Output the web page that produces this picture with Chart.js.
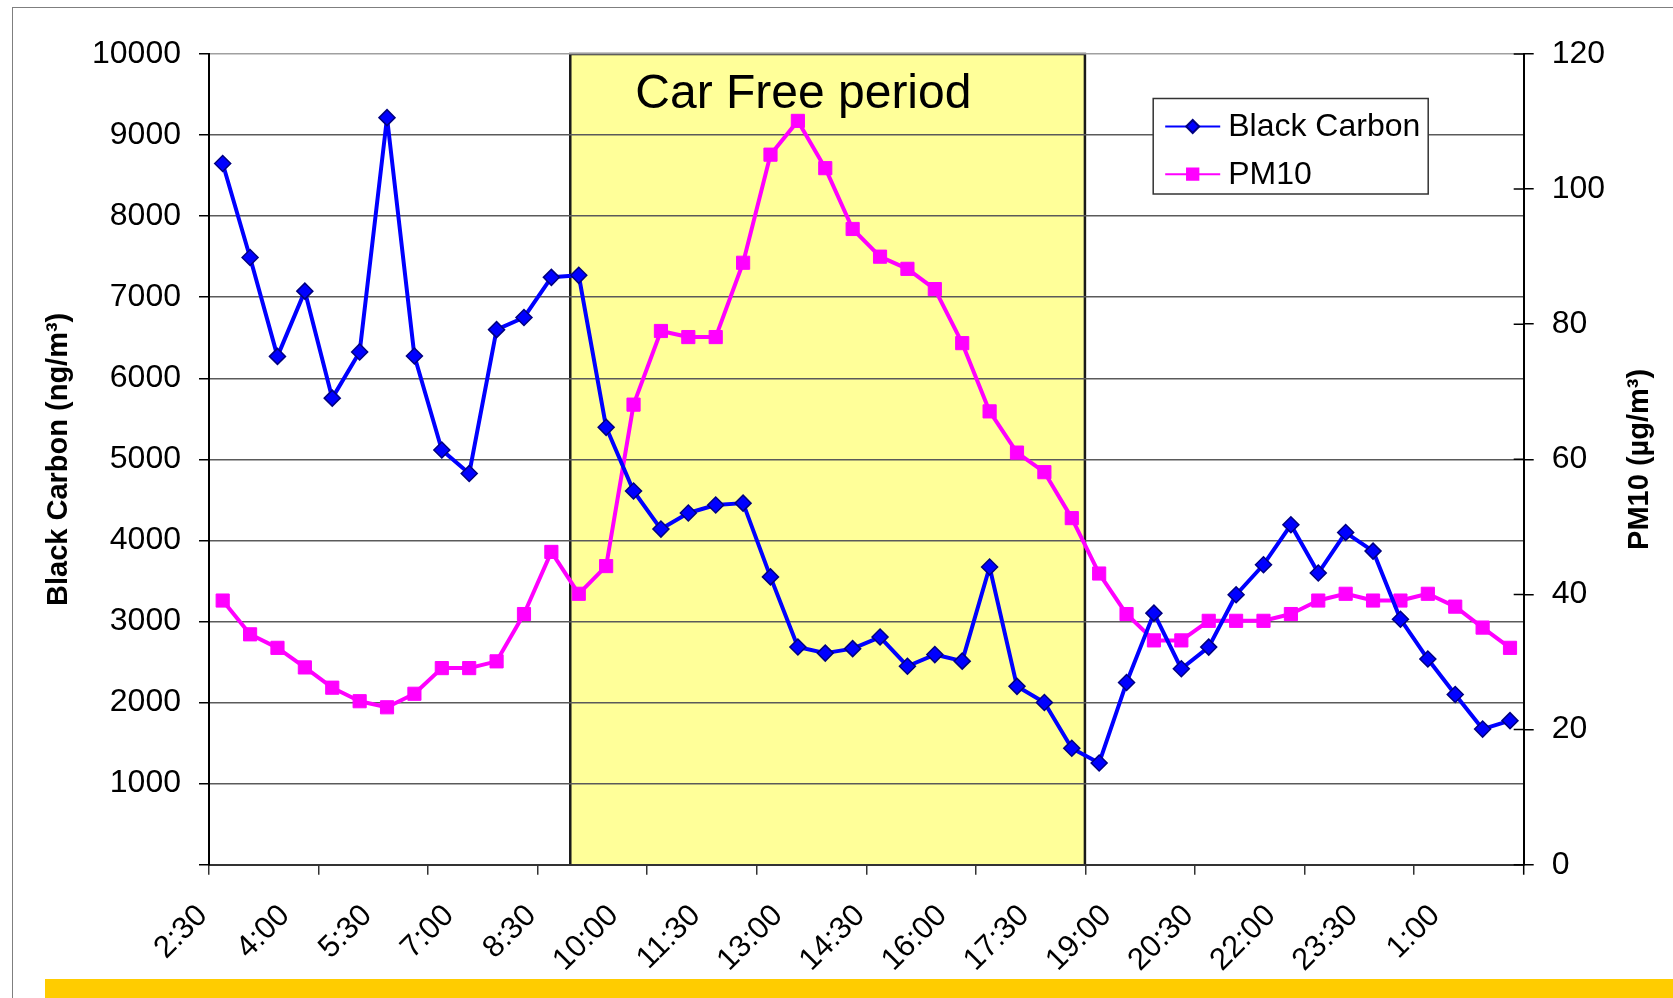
<!DOCTYPE html>
<html>
<head>
<meta charset="utf-8">
<title>Black Carbon and PM10 - car free day</title>
<script src="https://cdn.jsdelivr.net/npm/chart.js@4.4.1/dist/chart.umd.min.js"></script>
<style>
  html, body { margin: 0; padding: 0; background: #fff; }
  #wrap { position: relative; width: 1673px; height: 998px; overflow: hidden; }
  #frame { position: absolute; left: 12px; top: 7px; width: 1700px; height: 1100px; border-top: 1.5px solid #7f7f7f; border-left: 1.5px solid #7f7f7f; }
  #band { position: absolute; left: 45px; top: 979px; width: 1700px; height: 30px; background: #FFCC00; }
  canvas { position: absolute; left: 0; top: 0; }
</style>
</head>
<body>
<div id="wrap">
  <div id="frame"></div>
  <canvas id="chart" width="1673" height="998"></canvas>
  <div id="band"></div>
</div>
<script>
const timeLabels = [
  '2:30', '3:00', '3:30', '4:00', '4:30', '5:00', '5:30', '6:00', '6:30', '7:00', '7:30', '8:00',
  '8:30', '9:00', '9:30', '10:00', '10:30', '11:00', '11:30', '12:00', '12:30', '13:00', '13:30', '14:00',
  '14:30', '15:00', '15:30', '16:00', '16:30', '17:00', '17:30', '18:00', '18:30', '19:00', '19:30', '20:00',
  '20:30', '21:00', '21:30', '22:00', '22:30', '23:00', '23:30', '0:00', '0:30', '1:00', '1:30', '2:00'
];

// ng/m3
const blackCarbon = [
  8650, 7490, 6270, 7075, 5755, 6325, 9215, 6275, 5115, 4825, 6600, 6750,
  7245, 7270, 5395, 4610, 4140, 4338, 4437, 4460, 3550, 2685, 2610, 2665,
  2808, 2448, 2592, 2511, 3672, 2200, 2000, 1436, 1255, 2247, 3103, 2417,
  2684, 3330, 3700, 4193, 3598, 4097, 3868, 3028, 2537, 2100, 1673, 1777
];

// ug/m3
const pm10 = [
  39.1, 34.1, 32.1, 29.2, 26.2, 24.2, 23.3, 25.3, 29.1, 29.1, 30.1, 37.1,
  46.3, 40.1, 44.2, 68.1, 79.0, 78.1, 78.1, 89.1, 105.1, 110.1, 103.1, 94.1,
  90.0, 88.2, 85.2, 77.2, 67.1, 61.0, 58.1, 51.3, 43.1, 37.1, 33.2, 33.2,
  36.1, 36.1, 36.1, 37.1, 39.1, 40.1, 39.1, 39.1, 40.1, 38.2, 35.1, 32.1
];

const bcAxisTitle = 'Black Carbon (ng/m\u00b3)';
const pmAxisTitle = 'PM10 (\u00b5g/m\u00b3)';
const carFreeText = 'Car Free period';
// shaded box, in category units (9:00 .. 18:30)
const carFreeFrom = 12.69;
const carFreeTo = 31.48;

const fontFamily = '"Liberation Sans", Arial, sans-serif';
Chart.defaults.font.family = fontFamily;
Chart.defaults.color = '#000';

const carFreePlugin = {
  id: 'carFree',
  beforeDraw(chart) {
    const { ctx, chartArea, scales } = chart;
    const left = scales.x.getPixelForValue(carFreeFrom);
    const right = scales.x.getPixelForValue(carFreeTo);
    ctx.save();
    ctx.fillStyle = '#FFFF99';
    ctx.fillRect(left, chartArea.top, right - left, chartArea.bottom - chartArea.top);
    ctx.strokeStyle = '#1a1a1a';
    ctx.lineWidth = 2.5;
    ctx.beginPath();
    ctx.moveTo(left, chartArea.bottom);
    ctx.lineTo(left, chartArea.top);
    ctx.lineTo(right, chartArea.top);
    ctx.lineTo(right, chartArea.bottom);
    ctx.stroke();
    ctx.fillStyle = '#000';
    ctx.font = '48px ' + fontFamily;
    ctx.textAlign = 'center';
    ctx.textBaseline = 'alphabetic';
    ctx.fillText(carFreeText, scales.x.getPixelForValue(21.2), scales.y.getPixelForValue(9330));
    ctx.restore();
  }
};

const decorPlugin = {
  id: 'decor',
  afterDraw(chart) {
    const { ctx, chartArea, scales } = chart;
    ctx.save();

    // right axis ticks cross the axis line
    ctx.strokeStyle = '#000';
    ctx.lineWidth = 1.5;
    ctx.beginPath();
    scales.y1.ticks.forEach(t => {
      const py = scales.y1.getPixelForValue(t.value);
      ctx.moveTo(chartArea.right - 10, py);
      ctx.lineTo(chartArea.right, py);
    });
    ctx.moveTo(chartArea.right, chartArea.bottom);
    ctx.lineTo(chartArea.right, chartArea.bottom + 10);
    ctx.stroke();

    // axis titles, both reading upwards
    ctx.font = 'bold 29px ' + fontFamily;
    ctx.textAlign = 'center';
    ctx.textBaseline = 'middle';
    const midY = (chartArea.top + chartArea.bottom) / 2;
    ctx.save();
    ctx.translate(58.5, midY);
    ctx.rotate(-Math.PI / 2);
    ctx.fillText(bcAxisTitle, 0, 0);
    ctx.restore();
    ctx.save();
    ctx.translate(scales.y1.right - 33, midY);
    ctx.rotate(-Math.PI / 2);
    ctx.fillText(pmAxisTitle, 0, 0);
    ctx.restore();

    // legend box
    const bx = chartArea.right - 370.5;
    const by = chartArea.top + 44.5;
    const bw = 275;
    const bh = 95.5;
    ctx.fillStyle = '#fff';
    ctx.fillRect(bx, by, bw, bh);
    ctx.strokeStyle = '#333';
    ctx.lineWidth = 1.5;
    ctx.strokeRect(bx, by, bw, bh);
    ctx.font = '32px ' + fontFamily;
    ctx.textAlign = 'left';
    chart.data.datasets.forEach((ds, i) => {
      const cy = by + 28 + i * 47.7;
      ctx.strokeStyle = ds.borderColor;
      ctx.lineWidth = 2;
      ctx.beginPath();
      ctx.moveTo(bx + 12, cy);
      ctx.lineTo(bx + 67, cy);
      ctx.stroke();
      ctx.fillStyle = ds.pointBackgroundColor;
      ctx.strokeStyle = ds.pointBorderColor;
      Chart.helpers.drawPoint(ctx, {
        pointStyle: ds.pointStyle,
        radius: ds.pointStyle === 'rect' ? 8 : 6.5,
        borderWidth: 1,
        rotation: 0
      }, bx + 39.5, cy);
      ctx.fillStyle = '#000';
      ctx.fillText(ds.label, bx + 75, cy + 1);
    });
    ctx.restore();
  }
};

const canvas = document.getElementById('chart');

new Chart(canvas, {
  type: 'line',
  data: {
    labels: timeLabels,
    datasets: [
      {
        label: 'Black Carbon',
        data: blackCarbon,
        yAxisID: 'y',
        borderColor: '#0000FF',
        backgroundColor: '#0000FF',
        borderWidth: 4,
        borderJoinStyle: 'round',
        tension: 0,
        pointStyle: 'rectRot',
        pointRadius: 8,
        pointBackgroundColor: '#0000FF',
        pointBorderColor: '#000080',
        pointBorderWidth: 1.5
      },
      {
        label: 'PM10',
        data: pm10,
        yAxisID: 'y1',
        borderColor: '#FF00FF',
        backgroundColor: '#FF00FF',
        borderWidth: 4,
        borderJoinStyle: 'round',
        tension: 0,
        pointStyle: 'rect',
        pointRadius: 9.3,
        pointBackgroundColor: '#FF00FF',
        pointBorderColor: '#FF00FF',
        pointBorderWidth: 1
      }
    ]
  },
  options: {
    responsive: false,
    animation: false,
    events: [],
    layout: { padding: { left: 0, right: 0, top: 54, bottom: 0 } },
    plugins: {
      legend: { display: false },
      tooltip: { enabled: false }
    },
    scales: {
      x: {
        offset: true,
        grid: {
          offset: true,
          drawOnChartArea: false,
          tickLength: 10,
          lineWidth: 1.5,
          color: c => (c.index % 4 === 0 ? '#333' : 'rgba(0,0,0,0)'),
          tickColor: c => (c.index % 4 === 0 ? '#333' : 'rgba(0,0,0,0)')
        },
        border: { color: '#333', width: 2 },
        ticks: {
          autoSkip: false,
          maxRotation: 45,
          minRotation: 45,
          padding: 23,
          labelOffset: -20,
          font: { size: 31 },
          callback: (v, i) => (i % 3 === 0 ? timeLabels[i] : '')
        },
        afterFit: s => { s.height = 133.3; }
      },
      y: {
        position: 'left',
        min: 0,
        max: 10000,
        grid: {
          lineWidth: 1.5,
          tickLength: 10,
          color: c => (c.tick && c.tick.value === 10000 ? '#a0a0a0' : '#5a5a5a'),
          tickColor: '#000'
        },
        border: { color: '#000', width: 2 },
        ticks: {
          stepSize: 1000,
          padding: 18,
          font: { size: 32 },
          callback: v => (v === 0 ? '' : v)
        },
        afterFit: s => { s.width = 209; }
      },
      y1: {
        position: 'right',
        min: 0,
        max: 120,
        grid: { drawOnChartArea: false, tickLength: 10, lineWidth: 1.5, color: '#000' },
        border: { color: '#000', width: 2 },
        ticks: {
          stepSize: 20,
          padding: 18,
          font: { size: 32 }
        },
        afterFit: s => { s.width = 149.3; }
      }
    }
  },
  plugins: [carFreePlugin, decorPlugin]
});
</script>
</body>
</html>
